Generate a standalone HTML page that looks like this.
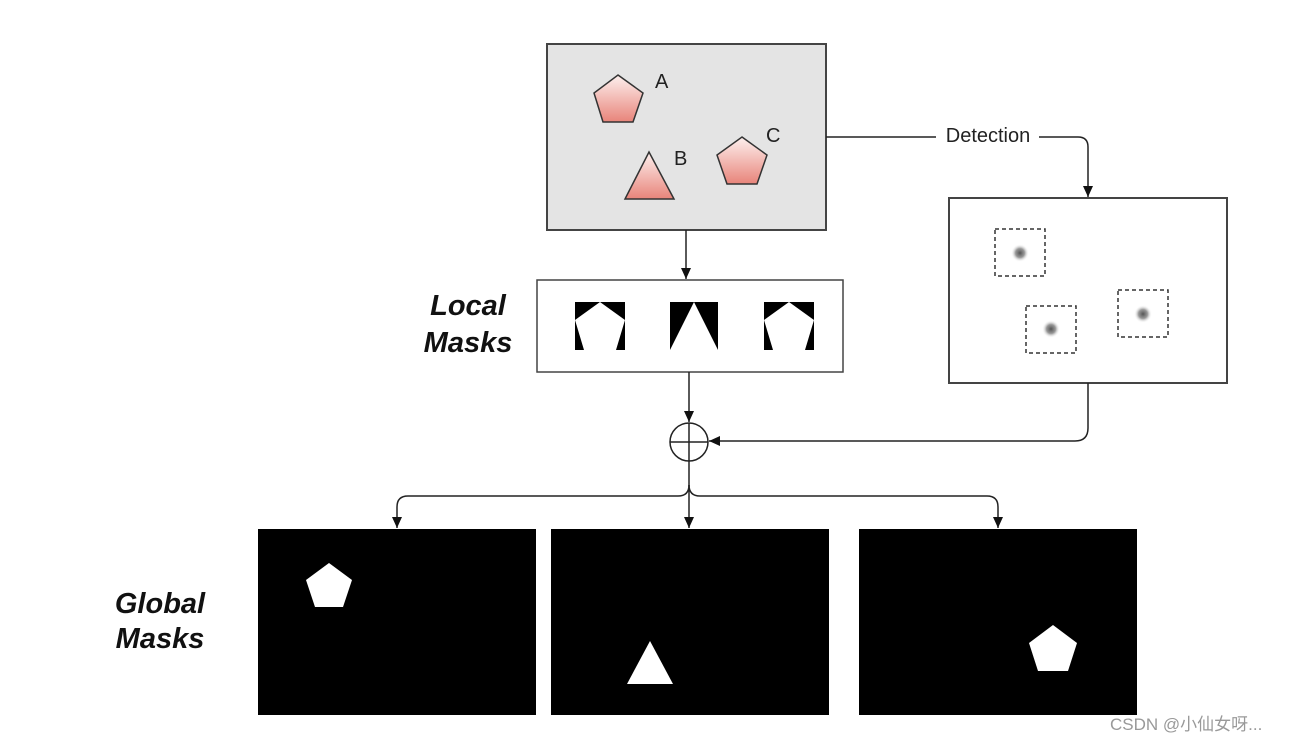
<!DOCTYPE html>
<html><head><meta charset="utf-8"><style>
html,body{margin:0;padding:0;background:#fff;width:1295px;height:743px;overflow:hidden}
svg{display:block}
</style></head><body>
<svg width="1295" height="743" viewBox="0 0 1295 743" xmlns="http://www.w3.org/2000/svg" font-family="Liberation Sans, sans-serif">
<defs>
<linearGradient id="pk" x1="0" y1="0" x2="0" y2="1"><stop offset="0" stop-color="#fdf0ee"/><stop offset="1" stop-color="#e8847a"/></linearGradient>
<radialGradient id="blob"><stop offset="0" stop-color="#555"/><stop offset="0.5" stop-color="#999"/><stop offset="1" stop-color="#fff" stop-opacity="0"/></radialGradient>
<marker id="ar" markerWidth="12" markerHeight="10" refX="11" refY="5" orient="auto" markerUnits="userSpaceOnUse"><path d="M0,0 L11,5 L0,10 z" fill="#111"/></marker>
</defs>
<!-- top box -->
<rect x="547" y="44" width="279" height="186" fill="#e4e4e4" stroke="#444" stroke-width="2"/>
<polygon points="618,75 643,93 633,122 603,122 594,93" fill="url(#pk)" stroke="#333" stroke-width="1.5"/>
<polygon points="649,152 674,199 625,199" fill="url(#pk)" stroke="#333" stroke-width="1.5"/>
<polygon points="742,137 767,155 757,184 727,184 717,155" fill="url(#pk)" stroke="#333" stroke-width="1.5"/>
<text x="655" y="88" font-size="20" fill="#222">A</text>
<text x="674" y="165" font-size="20" fill="#222">B</text>
<text x="766" y="142" font-size="20" fill="#222">C</text>
<!-- arrow top -> local -->
<line x1="686" y1="230" x2="686" y2="279" stroke="#222" stroke-width="1.5" marker-end="url(#ar)"/>
<!-- local box -->
<rect x="537" y="280" width="306" height="92" fill="#fff" stroke="#444" stroke-width="1.5"/>
<rect x="575" y="302" width="50" height="48" fill="#000"/>
<polygon points="600,302 625,320 616,350 584,350 575,320" fill="#fff"/>
<rect x="670" y="302" width="48" height="48" fill="#000"/>
<polygon points="694,302 718,350 670,350" fill="#fff"/>
<rect x="764" y="302" width="50" height="48" fill="#000"/>
<polygon points="789,302 814,320 805,350 773,350 764,320" fill="#fff"/>
<text x="468" y="315" font-size="29" font-weight="bold" font-style="italic" text-anchor="middle" fill="#111">Local</text>
<text x="468" y="352" font-size="29" font-weight="bold" font-style="italic" text-anchor="middle" fill="#111">Masks</text>
<!-- detection connector -->
<path d="M826,137 L1078,137 Q1088,137 1088,147 L1088,197" fill="none" stroke="#222" stroke-width="1.5" marker-end="url(#ar)"/>
<rect x="936" y="122" width="103" height="26" fill="#fff"/>
<text x="988" y="142" font-size="20" text-anchor="middle" fill="#222">Detection</text>
<!-- detection box -->
<rect x="949" y="198" width="278" height="185" fill="#fff" stroke="#444" stroke-width="2"/>
<rect x="995" y="229" width="50" height="47" fill="none" stroke="#333" stroke-width="1.5" stroke-dasharray="4,3"/>
<circle cx="1020" cy="253" r="9" fill="url(#blob)"/>
<rect x="1026" y="306" width="50" height="47" fill="none" stroke="#333" stroke-width="1.5" stroke-dasharray="4,3"/>
<circle cx="1051" cy="329" r="9" fill="url(#blob)"/>
<rect x="1118" y="290" width="50" height="47" fill="none" stroke="#333" stroke-width="1.5" stroke-dasharray="4,3"/>
<circle cx="1143" cy="314" r="9" fill="url(#blob)"/>
<!-- return line -->
<path d="M1088,383 L1088,428 Q1088,441 1075,441 L709,441" fill="none" stroke="#222" stroke-width="1.5" marker-end="url(#ar)"/>
<!-- local -> circle -->
<line x1="689" y1="372" x2="689" y2="422" stroke="#222" stroke-width="1.5" marker-end="url(#ar)"/>
<circle cx="689" cy="442" r="19" fill="#fff" stroke="#222" stroke-width="1.5"/>
<line x1="670" y1="442" x2="708" y2="442" stroke="#222" stroke-width="1.5"/>
<line x1="689" y1="423" x2="689" y2="461" stroke="#222" stroke-width="1.5"/>
<!-- branches -->
<line x1="689" y1="461" x2="689" y2="528" stroke="#222" stroke-width="1.5" marker-end="url(#ar)"/>
<path d="M689,485 Q689,496 678,496 L408,496 Q397,496 397,507 L397,528" fill="none" stroke="#222" stroke-width="1.5" marker-end="url(#ar)"/>
<path d="M689,485 Q689,496 700,496 L987,496 Q998,496 998,507 L998,528" fill="none" stroke="#222" stroke-width="1.5" marker-end="url(#ar)"/>
<!-- global -->
<rect x="258" y="529" width="278" height="186" fill="#000"/>
<polygon points="329,563 352,580 343,607 315,607 306,580" fill="#fff"/>
<rect x="551" y="529" width="278" height="186" fill="#000"/>
<polygon points="650,641 673,684 627,684" fill="#fff"/>
<rect x="859" y="529" width="278" height="186" fill="#000"/>
<polygon points="1053,625 1077,643 1068,671 1038,671 1029,643" fill="#fff"/>
<text x="160" y="613" font-size="29" font-weight="bold" font-style="italic" text-anchor="middle" fill="#111">Global</text>
<text x="160" y="648" font-size="29" font-weight="bold" font-style="italic" text-anchor="middle" fill="#111">Masks</text>
<text x="1110" y="730" font-size="17" fill="#999" font-family="Liberation Sans, Noto Sans CJK SC, sans-serif">CSDN @小仙女呀...</text>
</svg>
</body></html>
